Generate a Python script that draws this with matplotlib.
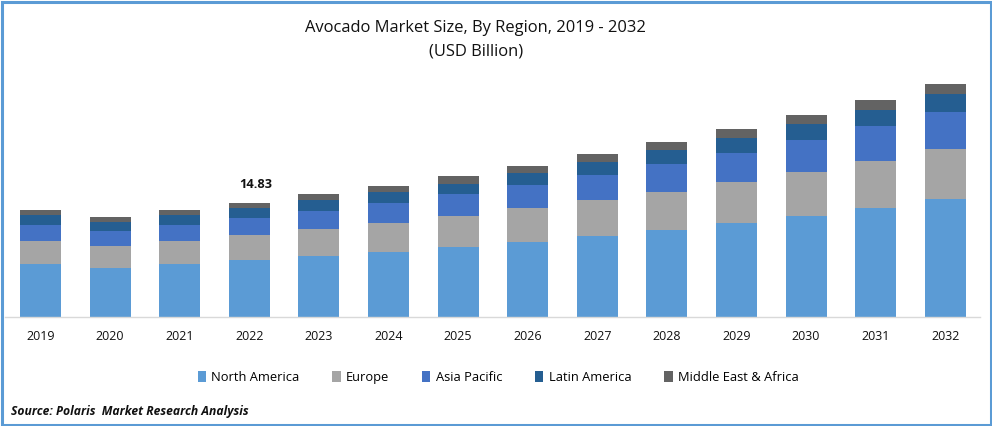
import numpy as np
from matplotlib import pyplot as plt
from matplotlib.patches import Rectangle

plt.rcParams["font.family"] = ["Open Sans", "DejaVu Sans"]

years = ["2019", "2020", "2021", "2022", "2023", "2024", "2025", "2026", "2027", "2028", "2029", "2030", "2031", "2032"]
north_america = [6.89, 6.37, 6.89, 7.41, 7.94, 8.46, 9.11, 9.76, 10.54, 11.32, 12.23, 13.14, 14.18, 15.35]
europe = [2.99, 2.86, 2.99, 3.25, 3.51, 3.77, 4.03, 4.42, 4.68, 4.94, 5.33, 5.72, 6.11, 6.50]
asia_pacific = [2.08, 1.95, 2.08, 2.21, 2.34, 2.60, 2.86, 2.99, 3.25, 3.64, 3.77, 4.16, 4.55, 4.81]
latin_america = [1.30, 1.17, 1.30, 1.30, 1.43, 1.43, 1.30, 1.56, 1.69, 1.82, 1.95, 2.08, 2.08, 2.34]
mea = [0.65, 0.65, 0.65, 0.66, 0.78, 0.78, 1.04, 0.91, 1.04, 1.04, 1.17, 1.17, 1.30, 1.30]

names = ["North America", "Europe", "Asia Pacific", "Latin America", "Middle East & Africa"]
colors = ["#5B9BD5", "#A5A5A5", "#4472C4", "#255E91", "#636363"]
series = [north_america, europe, asia_pacific, latin_america, mea]

W, H = 992, 426
fig = plt.figure(figsize=(W / 100, H / 100), dpi=100)

# axes placed in pixels: baseline at y=317, x from 5 to 980
ax = fig.add_axes([5 / W, 1 - 317 / H, 975 / W, 277 / H])
x = np.arange(len(years))
ax.set_xlim((5 - 40.5) / 69.6, (980 - 40.5) / 69.6)
ax.set_ylim(0, 277 / 7.687)

bottom = np.zeros(len(years))
for vals, name, col in zip(series, names, colors):
    ax.bar(x, vals, 41 / 69.6, bottom=bottom, color=col, label=name)
    bottom += np.array(vals)

for s in ["top", "left", "right"]:
    ax.spines[s].set_visible(False)
ax.spines["bottom"].set_color("#D9D9D9")
ax.spines["bottom"].set_linewidth(1)
ax.set_yticks([])
ax.set_xticks(x)
ax.set_xticklabels(years, fontsize=9, color="#111111")
ax.tick_params(axis="x", length=0, pad=9.5)

# label sits a little right of the bar centre in the reference
ax.annotate("14.83", (3, bottom[3]), xytext=(4.5, 8.4), textcoords="offset points", ha="center", va="bottom",
            fontsize=9.2, fontweight="bold", color="#111111")

fig.text(475 / W, 1 - 28.5 / H, "Avocado Market Size, By Region, 2019 - 2032", ha="center", va="center", fontsize=11.9, color="#111111")
fig.text(476 / W, 1 - 51 / H, "(USD Billion)", ha="center", va="center", fontsize=11.9, color="#111111")

fig.legend(loc="center", bbox_to_anchor=(498 / W, 1 - 377.5 / H), ncol=5, frameon=False, fontsize=9.3,
           handlelength=0.65, handleheight=0.9, handletextpad=0.4, columnspacing=2.55)

fig.text(11 / W, 1 - 411 / H, "Source: Polaris  Market Research Analysis", ha="left", va="center", fontsize=8.75,
         fontweight="bold", fontstyle="italic", color="#111111")

# blue frame round the picture
fig.add_artist(Rectangle((1.5 / W, 1.5 / H), (W - 3) / W, (H - 3) / H, transform=fig.transFigure,
                         fill=False, edgecolor="#5B9BD5", linewidth=2.2))

fig.savefig("out.png", dpi=100)
